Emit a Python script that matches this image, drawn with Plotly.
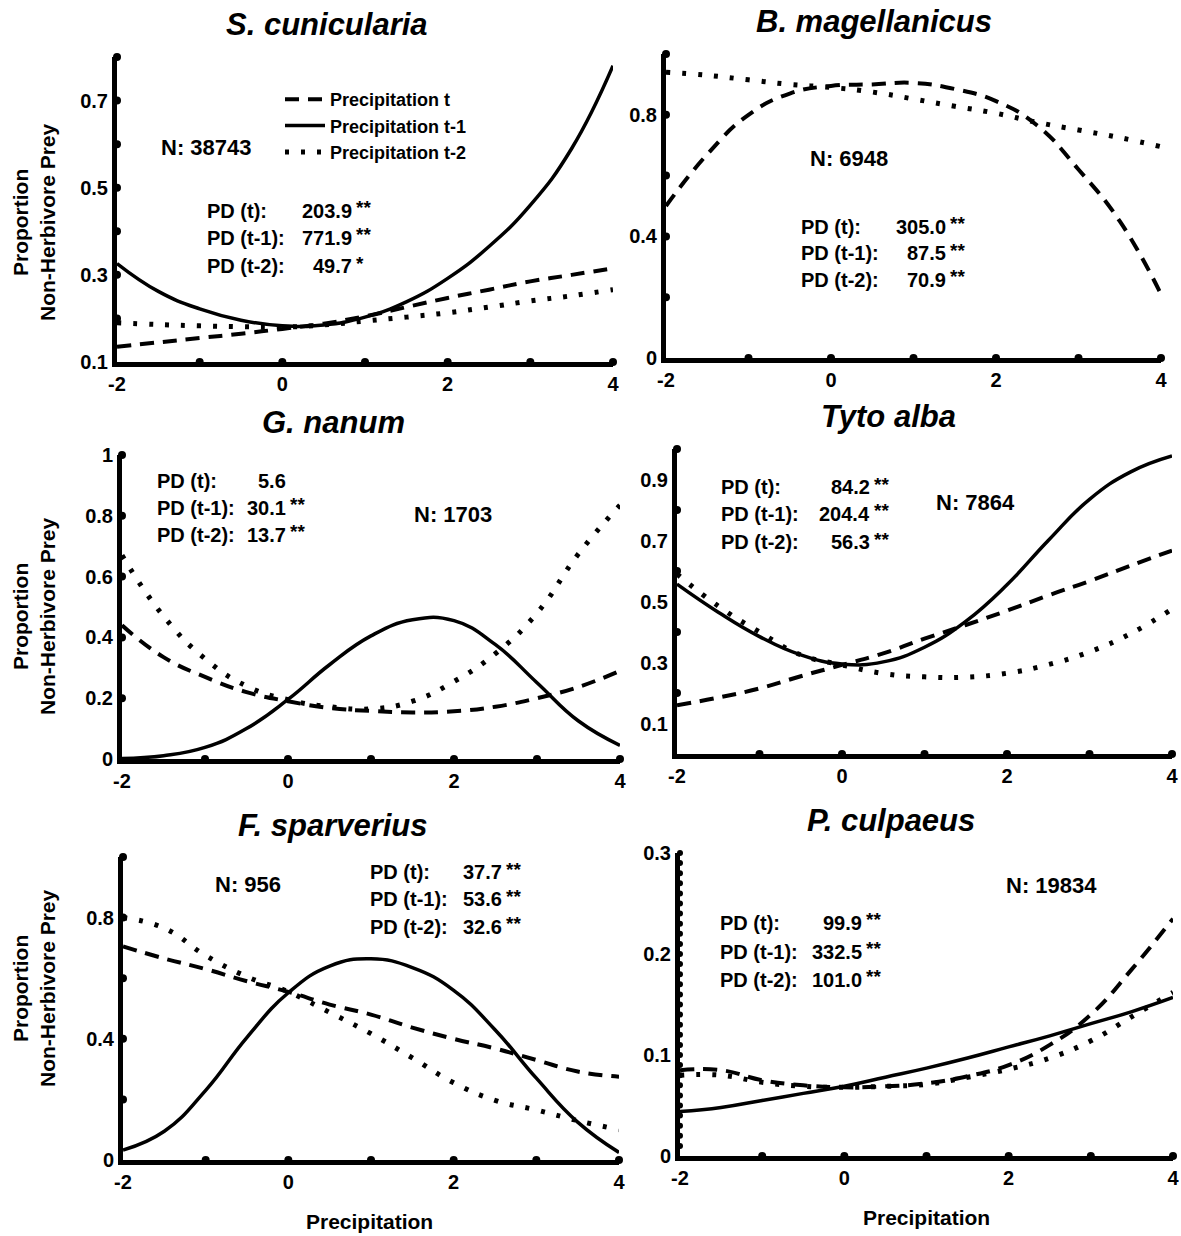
import plotly.graph_objects as go

# ---------------- data ----------------
X = [-2, -1.5, -1, -0.5, 0, 0.5, 1, 1.5, 2, 2.5, 3, 3.5, 4]

SC_T  = [0.135, 0.145, 0.155, 0.165, 0.176, 0.188, 0.205, 0.226, 0.247, 0.266, 0.285, 0.300, 0.315]
SC_T1 = [0.326, 0.262, 0.222, 0.196, 0.183, 0.185, 0.203, 0.238, 0.292, 0.365, 0.460, 0.590, 0.780]
SC_T2 = [0.190, 0.186, 0.183, 0.181, 0.180, 0.185, 0.194, 0.203, 0.213, 0.226, 0.240, 0.252, 0.266]

BM_T  = [0.50, 0.67, 0.80, 0.87, 0.895, 0.90, 0.905, 0.885, 0.845, 0.765, 0.62, 0.45, 0.21]
BM_T2 = [0.94, 0.93, 0.915, 0.90, 0.89, 0.875, 0.852, 0.828, 0.805, 0.775, 0.75, 0.725, 0.695]

GN_T  = [0.44, 0.335, 0.27, 0.22, 0.19, 0.168, 0.158, 0.153, 0.157, 0.172, 0.20, 0.237, 0.29]
GN_T1 = [0.002, 0.011, 0.038, 0.100, 0.196, 0.31, 0.405, 0.458, 0.455, 0.376, 0.251, 0.125, 0.045]
GN_T2 = [0.67, 0.47, 0.33, 0.24, 0.195, 0.172, 0.165, 0.19, 0.255, 0.347, 0.48, 0.675, 0.835]

TA_T  = [0.16, 0.185, 0.215, 0.255, 0.292, 0.33, 0.378, 0.423, 0.47, 0.52, 0.567, 0.618, 0.667]
TA_T1 = [0.557, 0.465, 0.385, 0.325, 0.295, 0.302, 0.35, 0.435, 0.555, 0.70, 0.835, 0.925, 0.977]
TA_T2 = [0.59, 0.485, 0.40, 0.325, 0.292, 0.264, 0.253, 0.252, 0.265, 0.293, 0.335, 0.395, 0.475]

FS_T  = [0.705, 0.665, 0.63, 0.59, 0.555, 0.513, 0.48, 0.437, 0.40, 0.368, 0.33, 0.292, 0.275]
FS_T1 = [0.033, 0.095, 0.23, 0.405, 0.552, 0.64, 0.664, 0.635, 0.56, 0.43, 0.27, 0.125, 0.025]
FS_T2 = [0.80, 0.765, 0.675, 0.605, 0.555, 0.487, 0.417, 0.337, 0.255, 0.197, 0.165, 0.13, 0.10]

PC_T  = [0.085, 0.085, 0.075, 0.07, 0.068, 0.069, 0.072, 0.079, 0.09, 0.11, 0.14, 0.185, 0.235]
PC_T1 = [0.044, 0.048, 0.055, 0.062, 0.069, 0.078, 0.087, 0.097, 0.108, 0.119, 0.131, 0.143, 0.157]
PC_T2 = [0.08, 0.08, 0.073, 0.069, 0.068, 0.069, 0.071, 0.078, 0.086, 0.097, 0.114, 0.138, 0.162]

X_TICKS = [-2, 0, 2, 4]
X_DOTS = [-1, 0, 1, 2, 3, 4]

SC_YTICKS = [0.1, 0.3, 0.5, 0.7]
SC_YDOTS = [0.2, 0.3, 0.4, 0.5, 0.6, 0.7, 0.8]
BM_YTICKS = [0, 0.4, 0.8]
BM_YDOTS = [0.2, 0.4, 0.6, 0.8, 1.0]
GN_YTICKS = [0, 0.2, 0.4, 0.6, 0.8, 1]
GN_YDOTS = [0.2, 0.4, 0.6, 0.8, 1.0]
TA_YTICKS = [0.1, 0.3, 0.5, 0.7, 0.9]
TA_YDOTS = [0.2, 0.4, 0.6, 0.8, 1.0]
FS_YTICKS = [0, 0.4, 0.8]
FS_YDOTS = [0.2, 0.4, 0.6, 0.8, 1.0]
PC_YTICKS = [0, 0.1, 0.2, 0.3]
PC_YDOTS = [round(0.01 * i, 2) for i in range(1, 31)]

SC_PD = [("PD (t):", "203.9", "**"), ("PD (t-1):", "771.9", "**"), ("PD (t-2):", "49.7", "*")]
BM_PD = [("PD (t):", "305.0", "**"), ("PD (t-1):", "87.5", "**"), ("PD (t-2):", "70.9", "**")]
GN_PD = [("PD (t):", "5.6", ""), ("PD (t-1):", "30.1", "**"), ("PD (t-2):", "13.7", "**")]
TA_PD = [("PD (t):", "84.2", "**"), ("PD (t-1):", "204.4", "**"), ("PD (t-2):", "56.3", "**")]
FS_PD = [("PD (t):", "37.7", "**"), ("PD (t-1):", "53.6", "**"), ("PD (t-2):", "32.6", "**")]
PC_PD = [("PD (t):", "99.9", "**"), ("PD (t-1):", "332.5", "**"), ("PD (t-2):", "101.0", "**")]

SERIES_NAMES = ["Precipitation t", "Precipitation t-1", "Precipitation t-2"]

# ---------------- layout config ----------------
W, H = 1181, 1236
FONT = "Liberation Sans, Arial, Helvetica, sans-serif"


def px(v):
    return v / W


def py(v):
    return 1 - v / H


panels = [
    dict(title="S. cunicularia", t=SC_T, t1=SC_T1, t2=SC_T2, xd=(117, 613), yd=(362, 57),
         yr=(0.1, 0.8), yt=SC_YTICKS, ydots=SC_YDOTS, dsize=8, n="N: 38743", n_xy=(-0.92, 0.593),
         pd=SC_PD, pd_lx=-0.935, pd_nx=0.867, pd_y=[0.447, 0.385, 0.320], tt=(327, 25)),
    dict(title="B. magellanicus", t=BM_T, t1=None, t2=BM_T2, xd=(666, 1161), yd=(358, 54),
         yr=(0, 1.0), yt=BM_YTICKS, ydots=BM_YDOTS, dsize=8, n="N: 6948", n_xy=(0.218, 0.655),
         pd=BM_PD, pd_lx=-0.388, pd_nx=1.418, pd_y=[0.431, 0.345, 0.257], tt=(874, 22)),
    dict(title="G. nanum", t=GN_T, t1=GN_T1, t2=GN_T2, xd=(122, 620), yd=(759, 455),
         yr=(0, 1.0), yt=GN_YTICKS, ydots=GN_YDOTS, dsize=8, n="N: 1703", n_xy=(1.988, 0.803),
         pd=GN_PD, pd_lx=-1.602, pd_nx=0.0, pd_y=[0.914, 0.826, 0.737], tt=(333, 423)),
    dict(title="Tyto alba", t=TA_T, t1=TA_T1, t2=TA_T2, xd=(677, 1172), yd=(754, 449),
         yr=(0, 1.0), yt=TA_YTICKS, ydots=TA_YDOTS, dsize=8, n="N: 7864", n_xy=(1.624, 0.826),
         pd=TA_PD, pd_lx=-1.491, pd_nx=0.364, pd_y=[0.875, 0.787, 0.695], tt=(889, 417)),
    dict(title="F. sparverius", t=FS_T, t1=FS_T1, t2=FS_T2, xd=(123, 619), yd=(1160, 857),
         yr=(0, 1.0), yt=FS_YTICKS, ydots=FS_YDOTS, dsize=8, n="N: 956", n_xy=(-0.488, 0.908),
         pd=FS_PD, pd_lx=0.964, pd_nx=2.609, pd_y=[0.950, 0.861, 0.769], tt=(333, 825)),
    dict(title="P. culpaeus", t=PC_T, t1=PC_T1, t2=PC_T2, xd=(680, 1173), yd=(1156, 853),
         yr=(0, 0.3), yt=PC_YTICKS, ydots=PC_YDOTS, dsize=6, n="N: 19834", n_xy=(2.527, 0.268),
         pd=PC_PD, pd_lx=-1.538, pd_nx=0.24, pd_y=[0.2307, 0.202, 0.1743], tt=(891, 820)),
]

STYLES = {
    "t": dict(color="black", width=4, dash="14px,9px"),
    "t1": dict(color="black", width=3.5, dash="solid"),
    "t2": dict(color="black", width=5, dash="4px,12px"),
}

fig = go.Figure()
annotations = []
layout = {}

for i, p in enumerate(panels):
    k = "" if i == 0 else str(i + 1)
    xa, ya = "x" + k, "y" + k
    for key, name in zip(["t", "t1", "t2"], SERIES_NAMES):
        vals = p[key]
        if vals is None:
            continue
        fig.add_trace(go.Scatter(
            x=X, y=vals, mode="lines", name=name, xaxis=xa, yaxis=ya,
            line=dict(shape="spline", smoothing=1.3, **STYLES[key]),
            showlegend=(i == 0), hoverinfo="skip", cliponaxis=False))
    # axis dots
    fig.add_trace(go.Scatter(
        x=X_DOTS, y=[p["yr"][0]] * len(X_DOTS), mode="markers", xaxis=xa, yaxis=ya,
        marker=dict(color="black", size=8), showlegend=False, hoverinfo="skip", cliponaxis=False))
    fig.add_trace(go.Scatter(
        x=[-2] * len(p["ydots"]), y=p["ydots"], mode="markers", xaxis=xa, yaxis=ya,
        marker=dict(color="black", size=p["dsize"]), showlegend=False, hoverinfo="skip",
        cliponaxis=False))

    tickfont = dict(family=FONT, size=20, color="black", weight="bold")
    layout["xaxis" + k] = dict(
        domain=[px(p["xd"][0]), px(p["xd"][1])], anchor=ya, range=[-2, 4],
        showline=True, linewidth=5, linecolor="black", ticks="", tickvals=X_TICKS,
        ticktext=[str(v) for v in X_TICKS], tickfont=tickfont, showgrid=False,
        zeroline=False, fixedrange=True)
    layout["yaxis" + k] = dict(
        domain=[py(p["yd"][0]), py(p["yd"][1])], anchor=xa, range=list(p["yr"]),
        showline=True, linewidth=5, linecolor="black", ticks="", tickvals=p["yt"],
        ticktext=[("%g" % v) for v in p["yt"]], tickfont=tickfont, showgrid=False,
        zeroline=False, fixedrange=True)

    # title
    annotations.append(dict(
        text=p["title"], x=px(p["tt"][0]), y=py(p["tt"][1]), xref="paper", yref="paper",
        xanchor="center", yanchor="middle", showarrow=False,
        font=dict(family=FONT, size=31, color="black", weight="bold", style="italic")))
    # N
    annotations.append(dict(
        text=p["n"], x=p["n_xy"][0], y=p["n_xy"][1], xref=xa, yref=ya,
        xanchor="center", yanchor="middle", showarrow=False,
        font=dict(family=FONT, size=22, color="black", weight="bold")))
    # PD rows
    for (lab, num, stars), yy in zip(p["pd"], p["pd_y"]):
        f = dict(family=FONT, size=20, color="black", weight="bold")
        annotations.append(dict(text=lab, x=p["pd_lx"], y=yy, xref=xa, yref=ya,
                                xanchor="left", yanchor="middle", showarrow=False, font=f))
        annotations.append(dict(text=num, x=p["pd_nx"], y=yy, xref=xa, yref=ya,
                                xanchor="right", yanchor="middle", showarrow=False, font=f))
        if stars:
            annotations.append(dict(text=stars, x=p["pd_nx"], y=yy, xref=xa, yref=ya,
                                    xanchor="left", yanchor="middle", yshift=3, xshift=0,
                                    showarrow=False,
                                    font=dict(family=FONT, size=19, color="black", weight="bold")))

# y axis titles (left column)
for cy in [222, 616, 988]:
    annotations.append(dict(
        text="Proportion<br>Non-Herbivore Prey", x=px(34), y=py(cy), xref="paper", yref="paper",
        xanchor="center", yanchor="middle", textangle=-90, showarrow=False,
        font=dict(family=FONT, size=21, color="black", weight="bold")))

# x axis titles (bottom row)
for cx, cy in [(369, 1221), (926, 1217)]:
    annotations.append(dict(
        text="Precipitation", x=px(cx), y=py(cy), xref="paper", yref="paper",
        xanchor="center", yanchor="middle", showarrow=False,
        font=dict(family=FONT, size=21, color="black", weight="bold")))

fig.update_layout(
    width=W, height=H, margin=dict(l=0, r=0, t=0, b=0, pad=0, autoexpand=False),
    paper_bgcolor="white", plot_bgcolor="white",
    annotations=annotations,
    legend=dict(x=px(280), y=py(81), xanchor="left", yanchor="top",
                bgcolor="rgba(0,0,0,0)", itemwidth=40, tracegroupgap=0,
                font=dict(family=FONT, size=18, color="black", weight="bold")),
    **layout)

fig.write_html("out.html", include_plotlyjs=True,
               config={"displayModeBar": False, "staticPlot": True},
               post_script="document.body.style.margin='0px';")
